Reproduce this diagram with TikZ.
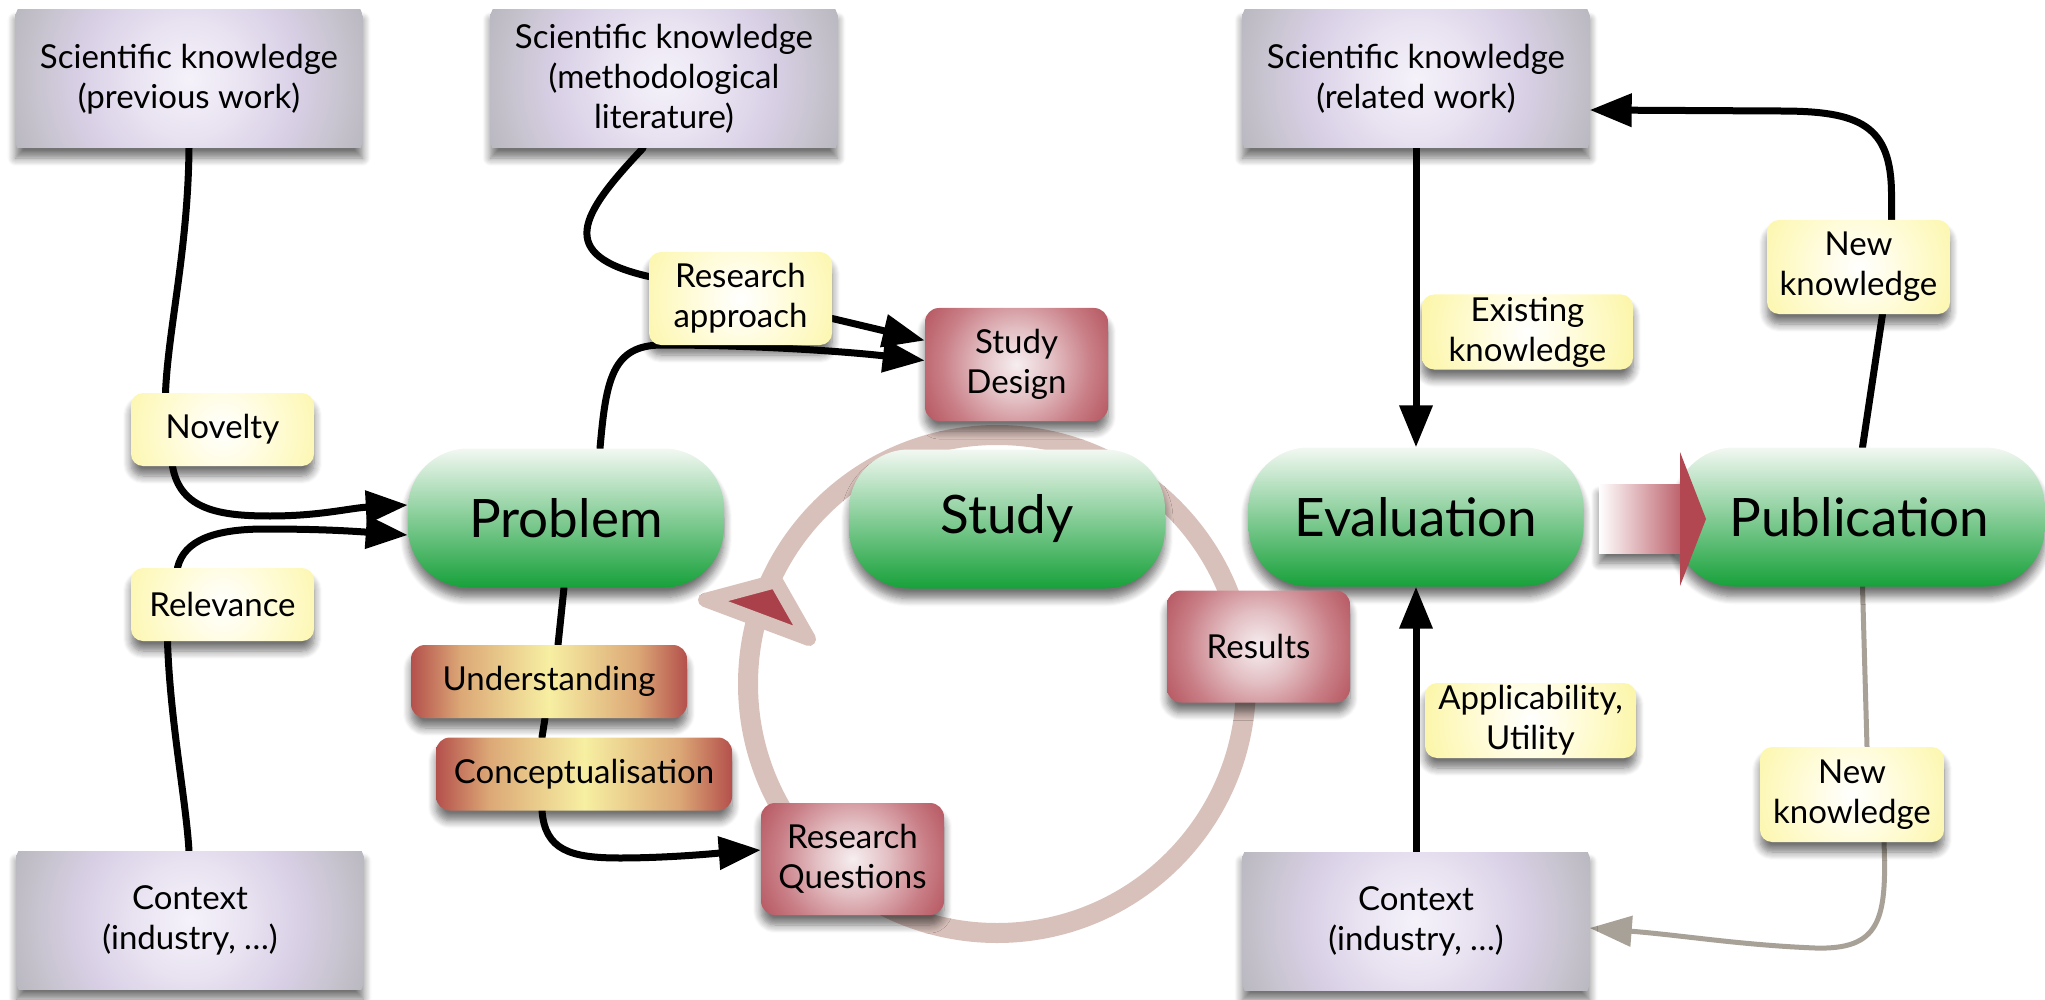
\documentclass[tikz,border=0pt]{standalone}
\usepackage{fontspec}
\setmainfont{Lato}
\usetikzlibrary{arrows.meta,calc,shadows.blur}
\definecolor{pW}{HTML}{F5F2FA}
\definecolor{pA}{HTML}{EAE4F2}
\definecolor{pL}{HTML}{D8CFE5}
\definecolor{pG}{HTML}{C7C3CE}
\definecolor{pD}{HTML}{BAB8C0}
\definecolor{rW}{HTML}{F6EEF0}
\definecolor{rA}{HTML}{E3C0C4}
\definecolor{rM}{HTML}{C97E86}
\definecolor{rD}{HTML}{B4535D}
\definecolor{yW}{HTML}{FFFFFF}
\definecolor{yA}{HTML}{FFFDE8}
\definecolor{yM}{HTML}{FEFAC8}
\definecolor{yD}{HTML}{FCF6AC}
\definecolor{oR}{HTML}{B4504C}
\definecolor{oT}{HTML}{DCA876}
\definecolor{oY}{HTML}{F7EFA2}
\definecolor{gTop}{HTML}{F2F8F2}
\definecolor{gBot}{HTML}{17A13A}
\definecolor{circcol}{HTML}{D9C1BB}
\definecolor{trired}{HTML}{A9404A}
\definecolor{grayarrow}{HTML}{A8A197}
\definecolor{arrowred}{HTML}{BD626C}
\definecolor{headred}{HTML}{B24651}
\pgfdeclareradialshading{purplerad}{\pgfpoint{0bp}{0bp}}{color(0bp)=(pW); color(7bp)=(pA); color(15bp)=(pL); color(21bp)=(pG); color(25bp)=(pD); color(50bp)=(pD)}
\pgfdeclareradialshading{redrad}{\pgfpoint{0bp}{0bp}}{color(0bp)=(rW); color(8bp)=(rA); color(17bp)=(rM); color(25bp)=(rD); color(50bp)=(rD)}
\pgfdeclareradialshading{yelrad}{\pgfpoint{0bp}{0bp}}{color(0bp)=(yW); color(6bp)=(yA); color(14bp)=(yM); color(21bp)=(yD); color(50bp)=(yD)}
\pgfdeclarehorizontalshading{orangeh}{100bp}{color(0bp)=(oR); color(25bp)=(oR); color(34bp)=(oT); color(50bp)=(oY); color(66bp)=(oT); color(75bp)=(oR); color(100bp)=(oR)}
\pgfdeclarelayer{back}
\pgfdeclarelayer{bg}
\pgfsetlayers{back,bg,main}
\newcommand\lblfont{\fontsize{33}{40}\selectfont}
\newcommand\pillfont{\fontsize{53}{60}\selectfont}
\begin{document}
\begin{tikzpicture}[x=1pt,y=-1pt,
  shad/.style={blur shadow={shadow xshift=0pt,shadow yshift=-10pt,shadow blur radius=8pt,shadow opacity=55,shadow blur steps=8}},
  basebox/.style={shad,rectangle,inner sep=0pt,align=center,font=\lblfont,text=black},
  pbox/.style={basebox,minimum width=347pt,minimum height=138pt,
    path picture={\shade[shading=purplerad] (path picture bounding box.center) circle [radius=185pt];}},
  ybox/.style={basebox,rounded corners=12pt,minimum width=183pt,minimum height=73pt,
    path picture={\shade[shading=yelrad] (path picture bounding box.center) circle [radius=125pt];}},
  rbox/.style={basebox,rounded corners=14pt,minimum width=183pt,minimum height=112pt,
    path picture={\shade[shading=redrad] (path picture bounding box.center) circle [radius=110pt];}},
  obox/.style={basebox,rounded corners=14pt,minimum height=73pt,shade,shading=orangeh},
  pill/.style={shad,rectangle,rounded corners=60pt,inner sep=0pt,minimum width=316pt,minimum height=139pt,
    top color=gTop,bottom color=gBot,font=\pillfont,text=black},
  conn/.style={line width=7pt,black,line cap=round,>={Triangle[length=42pt,width=32pt]}},
  grayc/.style={line width=5pt,grayarrow,line cap=round,>={Triangle[length=42pt,width=30pt]}}
]
\useasboundingbox (0,0) rectangle (2045,1000);
\begin{pgfonlayer}{back}
  \fill[white] (0,0) rectangle (2045,1000);
\end{pgfonlayer}
% invisible warm-up element outside the page (absorbs first-shadow artefact)
\fill[white] (-300,-300) rectangle (-290,-290);
\node[shad,fill=white,minimum size=5pt] (dummy) at (-200,-200) {};

% knowledge / context boxes
\node[pbox] (sk1) at (189,79) {Scientific knowledge\\(previous work)};
\node[pbox] (sk2) at (664,79) {Scientific knowledge\\(methodological\\literature)};
\node[pbox] (sk3) at (1416,79) {Scientific knowledge\\(related work)};
\node[pbox] (ctx1) at (190,920) {Context\\(industry, …)};
\node[pbox] (ctx2) at (1416,921) {Context\\(industry, …)};

% main phases
\node[pill] (prob) at (566,518) {Problem};
\node[pill] (study) at (1007,519) {Study};
\node[pill,minimum width=335pt] (eval) at (1416,517) {Evaluation};
\node[pill,minimum width=371pt] (pub) at (1859.5,517) {Publication};

% yellow labels
\node[ybox] (nov) at (222.5,429.5) {Novelty};
\node[ybox] (rel) at (222.5,604.5) {Relevance};
\node[ybox,minimum height=93pt] (ra) at (740.5,298.5) {Research\\approach};
\node[ybox,minimum width=211pt,minimum height=75pt] (ek) at (1527.5,332) {Existing\\knowledge};
\node[ybox,minimum height=94pt] (nk1) at (1858.5,267) {New\\knowledge};
\node[ybox,minimum width=211pt,minimum height=75pt] (au) at (1530.5,720.5) {Applicability,\\Utility};
\node[ybox,minimum width=184pt,minimum height=95pt] (nk2) at (1852,794.5) {New\\knowledge};

% red boxes
\node[rbox,minimum height=113pt] (sd) at (1016.5,364.5) {Study\\Design};
\node[rbox] (res) at (1258.5,646.5) {Results};
\node[rbox] (rq) at (852.5,859) {Research\\Questions};

% orange boxes
\node[obox,minimum width=276pt] (und) at (549,681.5) {Understanding};
\node[obox,minimum width=296pt] (con) at (584,774) {Conceptualisation};

% block arrow Evaluation -> Publication
\shade[shad,left color=white,right color=arrowred] (1599,484) rectangle (1681,553);
\fill[headred] (1680,452) -- (1706,519) -- (1680,586) -- cycle;

\begin{pgfonlayer}{bg}
  % study cycle
  \draw[line width=20pt,circcol] (997,684) circle [radius=249pt];
  \draw[line width=14pt,circcol,fill=trired,line join=round] (705,600) -- (776,581) -- (809,639) -- cycle;

  % left side
  \draw[conn] (sk1.south) .. controls (188,250) and (168,330) .. ($(nov.north)+(-57,0)$);
  \draw[conn,->] ($(nov.south)+(-50,0)$) .. controls (180,510) and (220,516) .. (270,516)
     .. controls (320,516) and (350,508) .. ($(prob.west)+(0,-13)$);
  \draw[conn,->] ($(rel.north)+(-45,0)$) .. controls (184,540) and (215,529) .. (265,529)
     .. controls (320,529) and (350,531) .. ($(prob.west)+(0,17)$);
  \draw[conn] ($(rel.south)+(-55,0)$) .. controls (170,720) and (186,800) .. ($(ctx1.north)+(-1,0)$);

  % methodology
  \draw[conn] ($(sk2.south)+(-21,0)$) .. controls (580,215) and (555,255) .. ($(ra.west)+(0,-22)$);
  \draw[conn,->] ($(ra.east)+(0,20)$) -- ($(sd.west)+(0,-24)$);
  \draw[conn,->] ($(prob.north)+(34,0)$) .. controls (606,380) and (612,345) .. (662,345)
     .. controls (760,345) and (850,352) .. ($(sd.west)+(0,-4)$);

  % problem -> research questions
  \draw[conn] ($(prob.south)+(-2,0)$) -- ($(und.north)+(9,0)$);
  \draw[conn] ($(und.south)+(-4,0)$) -- ($(con.north)+(-42,0)$);
  \draw[conn,->] ($(con.south)+(-42,0)$) .. controls (545,850) and (570,858) .. (620,858)
     .. controls (670,858) and (720,853) .. ($(rq.west)+(0,-9)$);

  % evaluation
  \draw[conn,->] (sk3.south) -- (eval.north);
  \draw[conn,->] (ctx2.north) -- (eval.south);

  % publication
  \draw[conn] ($(pub.north)+(3,0)$) -- ($(nk1.south)+(24,0)$);
  \draw[conn,->] ($(nk1.north)+(33,0)$) -- (1891.5,195) .. controls (1891.5,125) and (1860,111) .. (1780,111)
     -- ($(sk3.east)+(0,31)$);
  \draw[grayc] ($(pub.south)+(3,0)$) -- ($(nk2.north)+(15,0)$);
  \draw[grayc,->] ($(nk2.south)+(32,0)$) .. controls (1887,920) and (1880,950) .. (1815,948)
     .. controls (1740,945) and (1680,935) .. ($(ctx2.east)+(0,7)$);
\end{pgfonlayer}
\end{tikzpicture}
\end{document}
